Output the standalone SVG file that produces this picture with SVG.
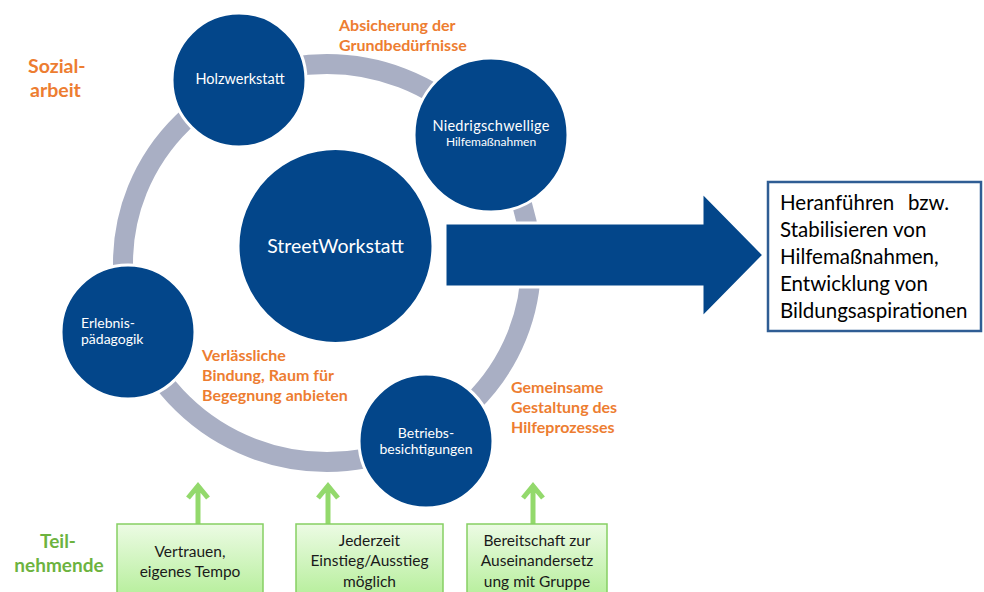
<svg xmlns="http://www.w3.org/2000/svg" width="984" height="592" viewBox="0 0 984 592">
<defs>
<linearGradient id="gb" x1="0" y1="0" x2="0" y2="1">
<stop offset="0" stop-color="#ECFBE4"/>
<stop offset="1" stop-color="#B4EE98"/>
</linearGradient>
<style>
.node{fill:#03468A;stroke:#ffffff;stroke-width:3}
.wt{fill:#ffffff;font-family:Lato,"Liberation Sans",sans-serif;text-anchor:middle}
.or{fill:#ED7D31;font-family:Lato,"Liberation Sans",sans-serif;font-weight:bold;font-size:16px}
.gr{fill:#6DB33F;font-family:Lato,"Liberation Sans",sans-serif;font-weight:bold;font-size:19px;text-anchor:middle}
.box{fill:url(#gb);stroke:#86CF63;stroke-width:1.5}
.bt{fill:#1a1a1a;font-family:Lato,"Liberation Sans",sans-serif;font-size:15.5px;text-anchor:middle}
.ga{fill:none;stroke:#93D96C;stroke-width:5}
.rt{fill:#000000;font-family:Lato,"Liberation Sans",sans-serif;font-size:20.5px}
</style>
</defs>
<g id="connectors">
<ellipse id="ring" cx="327" cy="263" rx="204" ry="199" fill="none" stroke="#A9AFC4" stroke-width="20"/>
<g id="green-arrows">
<path class="ga" d="M198,524 V486 M188,498 L198,486 L208,498"/>
<path class="ga" d="M328,524 V486 M318,498 L328,486 L338,498"/>
<path class="ga" d="M533,524 V486 M523,498 L533,486 L543,498"/>
</g>
</g>
<g id="node-holz">
<circle class="node" cx="239" cy="80" r="67"/>
<text class="wt" x="240" y="84" font-size="14.5">Holzwerkstatt</text>
</g>
<g id="node-niedrig">
<circle class="node" cx="491" cy="135" r="77"/>
<text class="wt" x="491" y="131" font-size="14.5" letter-spacing="0.3">Niedrigschwellige</text>
<text class="wt" x="491" y="146" font-size="12">Hilfemaßnahmen</text>
</g>
<g id="node-street">
<circle class="node" cx="335.5" cy="246" r="97.5"/>
<text class="wt" x="335.5" y="253" font-size="19.5">StreetWorkstatt</text>
</g>
<g id="node-erlebnis">
<circle class="node" cx="128" cy="332" r="67"/>
<text class="wt" x="81" y="328" font-size="14" style="text-anchor:start">Erlebnis-</text>
<text class="wt" x="81" y="344" font-size="14" style="text-anchor:start">pädagogik</text>
</g>
<g id="node-betrieb">
<circle class="node" cx="426" cy="441" r="67"/>
<text class="wt" x="426" y="438" font-size="14">Betriebs-</text>
<text class="wt" x="426" y="454" font-size="14">besichtigungen</text>
</g>
<g id="big-arrow">
<polygon points="445,223 702,223 702,192 764,255 702,318 702,287 445,287" fill="#03468A" stroke="#ffffff" stroke-width="3"/>
</g>
<g id="node-result">
<rect x="768" y="182" width="213" height="149" fill="#ffffff" stroke="#2F5D94" stroke-width="2.5"/>
<text class="rt" x="780" y="210">Heranführen<tspan x="908">bzw.</tspan></text>
<text class="rt" x="780" y="237">Stabilisieren von</text>
<text class="rt" x="780" y="264">Hilfemaßnahmen,</text>
<text class="rt" x="780" y="291">Entwicklung von</text>
<text class="rt" x="780" y="318">Bildungsaspirationen</text>
</g>
<g id="labels">
<text class="or" x="28" y="73" style="font-size:19.5px">Sozial-</text>
<text class="or" x="30" y="97" style="font-size:19.5px">arbeit</text>
<text class="or" x="339" y="31">Absicherung der</text>
<text class="or" x="339" y="51">Grundbedürfnisse</text>
<text class="or" x="202" y="361">Verlässliche</text>
<text class="or" x="202" y="381">Bindung, Raum für</text>
<text class="or" x="202" y="401">Begegnung anbieten</text>
<text class="or" x="511" y="393">Gemeinsame</text>
<text class="or" x="511" y="413">Gestaltung des</text>
<text class="or" x="511" y="433">Hilfeprozesses</text>
<text class="gr" x="58" y="548">Teil-</text>
<text class="gr" x="59" y="572">nehmende</text>
</g>
<g id="node-box1">
<rect class="box" x="117" y="524" width="146" height="76"/>
<text class="bt" x="190" y="557">Vertrauen,</text>
<text class="bt" x="190" y="577">eigenes Tempo</text>
</g>
<g id="node-box2">
<rect class="box" x="296" y="524" width="147" height="76"/>
<text class="bt" x="369.5" y="546">Jederzeit</text>
<text class="bt" x="369.5" y="566">Einstieg/Ausstieg</text>
<text class="bt" x="369.5" y="587">möglich</text>
</g>
<g id="node-box3">
<rect class="box" x="467" y="524" width="140" height="76"/>
<text class="bt" x="537" y="546">Bereitschaft zur</text>
<text class="bt" x="537" y="566">Auseinandersetz</text>
<text class="bt" x="537" y="587">ung mit Gruppe</text>
</g>
</svg>
